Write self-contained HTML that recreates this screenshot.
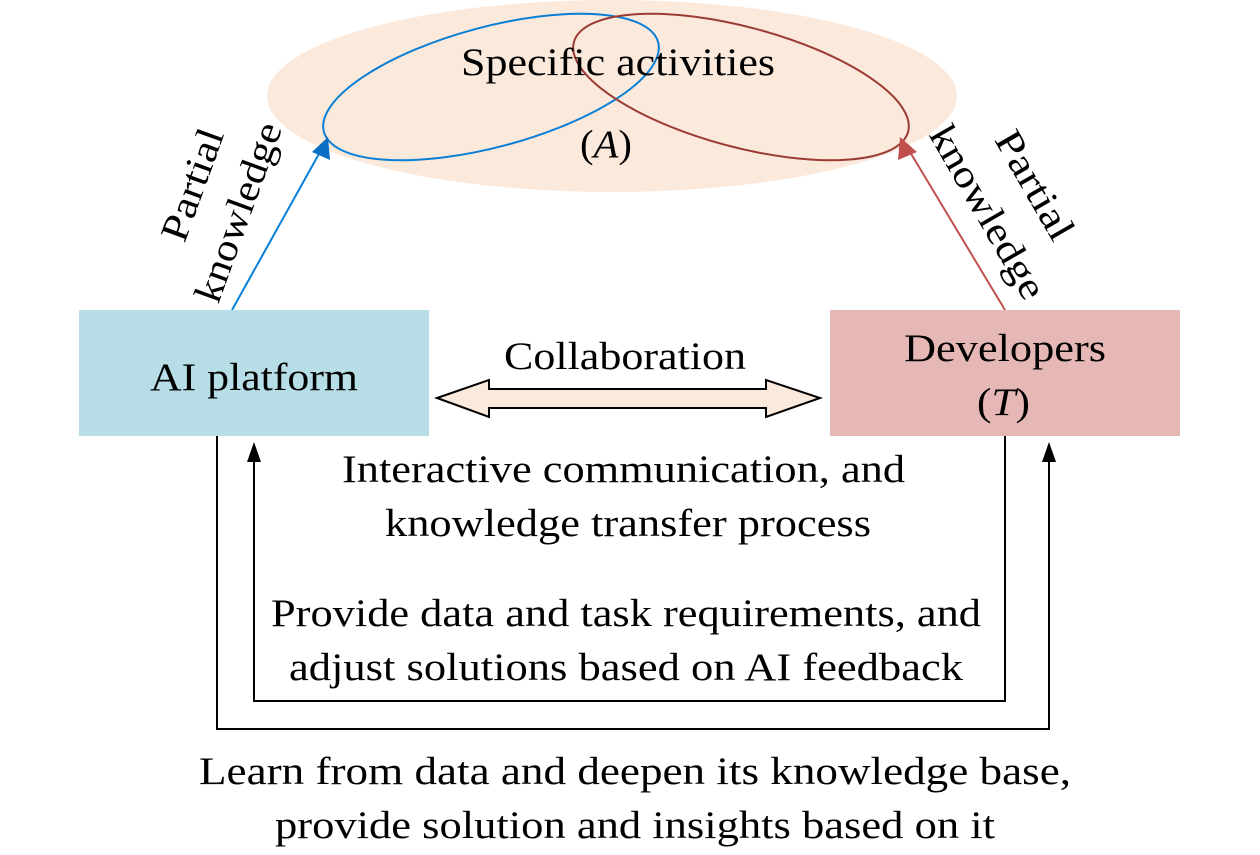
<!DOCTYPE html>
<html><head><style>
body{margin:0;background:#fff}
svg text{font-family:"Liberation Serif",serif;font-size:39px;fill:#000}
</style></head><body>
<svg width="1260" height="850" viewBox="0 0 1260 850" xmlns="http://www.w3.org/2000/svg">
<ellipse cx="612" cy="96" rx="345" ry="96" fill="#fbe9dc"/>
<ellipse cx="491" cy="87" rx="173" ry="60" transform="rotate(-15 491 87)" fill="none" stroke="#0a7fd6" stroke-width="2"/>
<ellipse cx="741" cy="87" rx="173" ry="60" transform="rotate(15 741 87)" fill="none" stroke="#9c3b33" stroke-width="2"/>
<text x="461" y="75" textLength="314" lengthAdjust="spacingAndGlyphs">Specific activities</text>
<text x="580" y="157" textLength="52" lengthAdjust="spacingAndGlyphs">(<tspan font-style="italic">A</tspan>)</text>
<line x1="232" y1="310" x2="320" y2="152" stroke="#0a7fd6" stroke-width="2"/>
<path d="M328,137 L330,160 L312,152z" fill="#0a6fc4"/>
<line x1="1005" y1="310" x2="910" y2="152" stroke="#c0504d" stroke-width="2"/>
<path d="M900,137 L898,160 L917,152z" fill="#c0504d"/>
<g transform="translate(192,185) rotate(-70)"><text x="-58" y="13" textLength="117" lengthAdjust="spacingAndGlyphs">Partial</text></g>
<g transform="translate(238,212) rotate(-70)"><text x="-94" y="13" textLength="188" lengthAdjust="spacingAndGlyphs">knowledge</text></g>
<g transform="translate(1035,185) rotate(60)"><text x="-60" y="13" textLength="120" lengthAdjust="spacingAndGlyphs">Partial</text></g>
<g transform="translate(988,212) rotate(60)"><text x="-97" y="13" textLength="194" lengthAdjust="spacingAndGlyphs">knowledge</text></g>
<rect x="79" y="310" width="350" height="126" fill="#b7dde6"/>
<rect x="830" y="310" width="350" height="126" fill="#e5b8b5"/>
<text x="150" y="390" textLength="208" lengthAdjust="spacingAndGlyphs">AI platform</text>
<text x="904" y="361" textLength="202" lengthAdjust="spacingAndGlyphs">Developers</text>
<text x="977" y="415" textLength="53" lengthAdjust="spacingAndGlyphs">(<tspan font-style="italic">T</tspan>)</text>
<text x="504" y="369" textLength="242" lengthAdjust="spacingAndGlyphs">Collaboration</text>
<path d="M437,398 L489,380 L489,389 L766,389 L766,380 L820,398 L766,417 L766,408 L489,408 L489,417z" fill="#fbe9dc" stroke="#000" stroke-width="2"/>
<polyline points="217,436 217,729 1049,729 1049,455" fill="none" stroke="#000" stroke-width="2"/>
<path d="M1049,442 L1042,462 L1056,462z" fill="#000"/>
<polyline points="1005,436 1005,701 254,701 254,455" fill="none" stroke="#000" stroke-width="2"/>
<path d="M254,442 L247,462 L261,462z" fill="#000"/>
<text x="342" y="482" textLength="563" lengthAdjust="spacingAndGlyphs">Interactive communication, and</text>
<text x="385" y="536" textLength="486" lengthAdjust="spacingAndGlyphs">knowledge transfer process</text>
<text x="271" y="626" textLength="710" lengthAdjust="spacingAndGlyphs">Provide data and task requirements, and</text>
<text x="289" y="680" textLength="674" lengthAdjust="spacingAndGlyphs">adjust solutions based on AI feedback</text>
<text x="199" y="784" textLength="872" lengthAdjust="spacingAndGlyphs">Learn from data and deepen its knowledge base,</text>
<text x="275" y="838" textLength="720" lengthAdjust="spacingAndGlyphs">provide solution and insights based on it</text>
</svg>
</body></html>
